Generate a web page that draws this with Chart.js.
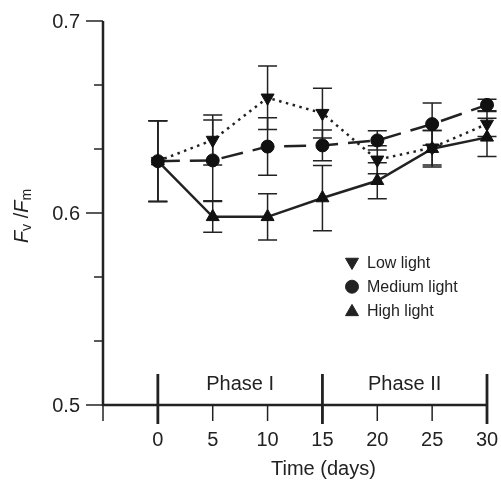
<!DOCTYPE html>
<html>
<head>
<meta charset="utf-8">
<script src="https://cdn.jsdelivr.net/npm/chart.js@4/dist/chart.umd.min.js"></script>
<style>
html,body{margin:0;padding:0;background:#fff;}
canvas{display:block;}
</style>
</head>
<body>
<canvas id="c" width="501" height="483"></canvas>
<script>
// ---- data ----
const days = [0, 5, 10, 15, 20, 25, 30];
const lowLight    = [0.627, 0.638, 0.660, 0.652, 0.6277, 0.634, 0.6464];
const lowErr      = [0.021, 0.013, 0.0165, 0.013, 0.0073, 0.009, 0.0065];
const mediumLight = [0.627, 0.6274, 0.6346, 0.6352, 0.6378, 0.6463, 0.6563];
const mediumErr   = [0.021, 0.021, 0.015, 0.008, 0.005, 0.011, 0.003];
const highLight   = [0.627, 0.598, 0.598, 0.6078, 0.6168, 0.6335, 0.6394];
const highErr     = [0.021, 0.008, 0.012, 0.017, 0.0094, 0.0095, 0.010];
const seriesLabels = ['Low light', 'Medium light', 'High light'];
const xTickValues = [-5, 0, 5, 10, 15, 20, 25, 30];
const xTickLabels = ['', '0', '5', '10', '15', '20', '25', '30'];
const yMajorTicks = [0.5, 0.6, 0.7];
const yTickLabels = ['0.5', '0.6', '0.7'];
const phaseBounds = [0, 15, 30];
const phaseLabels = ['Phase I', 'Phase II'];
const xTitle = 'Time (days)';

const INK = '#222';
const FONT = '"Liberation Sans", Arial, Helvetica, sans-serif';

function pts(vals){ return days.map((d,i)=>({x:d, y:vals[i]})); }

const errs = [lowErr, mediumErr, highErr];

const axesPlugin = {
  id: 'axesPlugin',
  beforeDatasetsDraw(chart){
    const ctx = chart.ctx, xs = chart.scales.x, ys = chart.scales.y;
    const x0 = xs.getPixelForValue(-5), x1 = xs.getPixelForValue(30);
    const yTop = ys.getPixelForValue(0.7), yBot = ys.getPixelForValue(0.5);
    ctx.save();
    ctx.strokeStyle = INK; ctx.fillStyle = INK;
    // y axis line
    ctx.lineWidth = 2.5;
    ctx.beginPath(); ctx.moveTo(x0, yTop); ctx.lineTo(x0, yBot + 1); ctx.stroke();
    // x axis line
    ctx.beginPath(); ctx.moveTo(x0 - 1, yBot); ctx.lineTo(x1, yBot); ctx.stroke();
    // y ticks: minor every 1/30
    ctx.lineWidth = 1.5;
    for (let k = 0; k <= 6; k++){
      const v = 0.5 + k * (0.2/6);
      const y = ys.getPixelForValue(v);
      const major = (k % 3 === 0);
      ctx.beginPath(); ctx.moveTo(x0 - (major ? 17 : 9), y); ctx.lineTo(x0, y); ctx.stroke();
    }
    ctx.font = '20px ' + FONT;
    ctx.textAlign = 'right'; ctx.textBaseline = 'middle';
    yMajorTicks.forEach((v,i)=>{ ctx.fillText(yTickLabels[i], x0 - 23, ys.getPixelForValue(v) + 1); });
    // x ticks
    ctx.lineWidth = 1.5;
    xTickValues.forEach((v,i)=>{
      const x = xs.getPixelForValue(v);
      ctx.beginPath(); ctx.moveTo(x, yBot); ctx.lineTo(x, yBot + 16); ctx.stroke();
    });
    // phase boundary ticks
    ctx.lineWidth = 2.8;
    phaseBounds.forEach(v=>{
      const x = xs.getPixelForValue(v);
      ctx.beginPath(); ctx.moveTo(x, yBot - 31); ctx.lineTo(x, yBot + 19); ctx.stroke();
    });
    ctx.textAlign = 'center'; ctx.textBaseline = 'middle';
    xTickValues.forEach((v,i)=>{ if (xTickLabels[i]) ctx.fillText(xTickLabels[i], xs.getPixelForValue(v), yBot + 35); });
    // phase labels
    for (let i = 0; i < phaseLabels.length; i++){
      const xm = (xs.getPixelForValue(phaseBounds[i]) + xs.getPixelForValue(phaseBounds[i+1])) / 2;
      ctx.fillText(phaseLabels[i], xm, yBot - 21);
    }
    // x title
    ctx.fillText(xTitle, (xs.getPixelForValue(0) + x1)/2 + 1, yBot + 64);
    // y title: F_v /F_m rotated
    ctx.translate(22, 216);
    ctx.rotate(-Math.PI/2);
    const parts = [
      {t:'F', f:'italic 20px ' + FONT, dy:0},
      {t:'v', f:'14px ' + FONT, dy:5},
      {t:' /', f:'20px ' + FONT, dy:0},
      {t:'F', f:'italic 20px ' + FONT, dy:0},
      {t:'m', f:'14px ' + FONT, dy:5}
    ];
    let w = 0;
    parts.forEach(p=>{ ctx.font = p.f; p.w = ctx.measureText(p.t).width; w += p.w; });
    let cx = -w/2;
    ctx.textAlign = 'left'; ctx.textBaseline = 'middle';
    parts.forEach(p=>{ ctx.font = p.f; ctx.fillText(p.t, cx, p.dy); cx += p.w; });
    ctx.restore();

    // error bars
    ctx.save();
    ctx.strokeStyle = INK; ctx.lineWidth = 1.5;
    chart.data.datasets.forEach((ds, di)=>{
      ds.data.forEach((p, i)=>{
        const x = xs.getPixelForValue(p.x);
        const yA = ys.getPixelForValue(p.y + errs[di][i]);
        const yB = ys.getPixelForValue(p.y - errs[di][i]);
        ctx.beginPath();
        ctx.moveTo(x, yA); ctx.lineTo(x, yB);
        ctx.moveTo(x - 9.5, yA); ctx.lineTo(x + 9.5, yA);
        ctx.moveTo(x - 9.5, yB); ctx.lineTo(x + 9.5, yB);
        ctx.stroke();
      });
    });
    ctx.restore();
  },
  afterDatasetsDraw(chart){
    const ctx = chart.ctx;
    ctx.save();
    const styles = [
      {style:'triangle', rot:180, r:7.5},
      {style:'circle', rot:0, r:6.5},
      {style:'triangle', rot:0, r:7.5}
    ];
    const lx = 352, ly0 = 263, dy = 23.7;
    ctx.font = '16px ' + FONT;
    ctx.textAlign = 'left'; ctx.textBaseline = 'middle';
    seriesLabels.forEach((lab, i)=>{
      const y = ly0 + i*dy;
      ctx.fillStyle = INK; ctx.strokeStyle = INK; ctx.lineWidth = 1;
      Chart.helpers.drawPoint(ctx, {pointStyle: styles[i].style, rotation: styles[i].rot, radius: styles[i].r, borderWidth: 1}, lx, y + (styles[i].style==='triangle' ? (styles[i].rot ? -1 : 1.5) : 0));
      ctx.fillStyle = INK;
      ctx.fillText(lab, lx + 15, y + 1);
    });
    ctx.restore();
  }
};

const common = {
  borderColor: INK,
  pointBackgroundColor: '#111',
  pointBorderColor: '#111',
  pointBorderWidth: 1,
  borderWidth: 2.5,
  tension: 0,
  fill: false,
  clip: false,
  showLine: true
};

new Chart(document.getElementById('c'), {
  type: 'line',
  data: {
    datasets: [
      Object.assign({}, common, {label: seriesLabels[0], data: pts(lowLight), pointStyle: 'triangle', pointRotation: 180, pointRadius: 7.5, borderDash: [2.5, 4.5], borderWidth: 2.5}),
      Object.assign({}, common, {label: seriesLabels[1], data: pts(mediumLight), pointStyle: 'circle', pointRadius: 6.5, borderDash: [22, 10]}),
      Object.assign({}, common, {label: seriesLabels[2], data: pts(highLight), pointStyle: 'triangle', pointRadius: 7.5})
    ]
  },
  options: {
    responsive: false,
    animation: false,
    events: [],
    layout: {padding: {left: 103, right: 14, top: 21, bottom: 78}},
    scales: {
      x: {type: 'linear', min: -5, max: 30, display: false},
      y: {type: 'linear', min: 0.5, max: 0.7, display: false}
    },
    plugins: {legend: {display: false}, tooltip: {enabled: false}}
  },
  plugins: [axesPlugin]
});
</script>
</body>
</html>
